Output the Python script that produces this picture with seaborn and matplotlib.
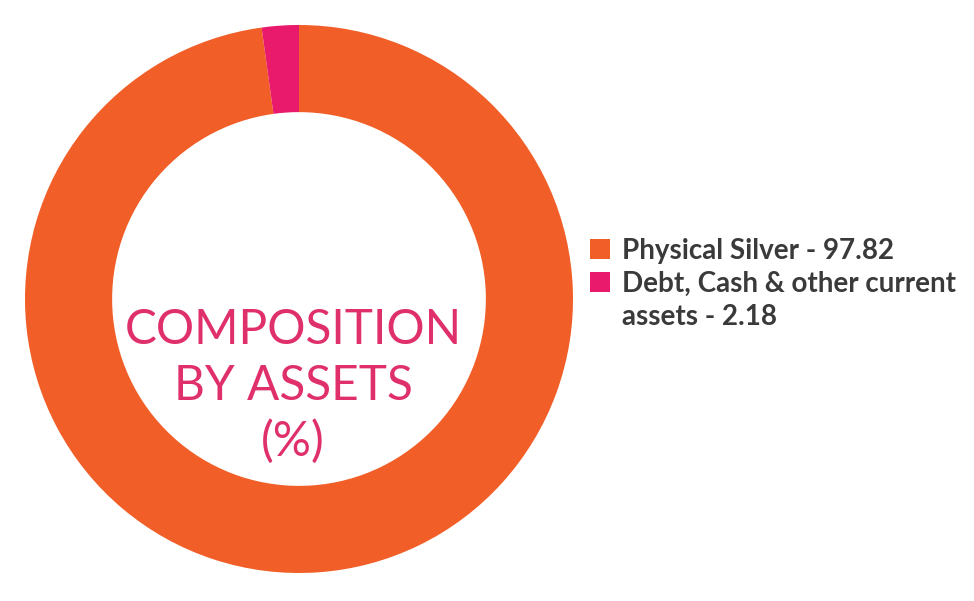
import matplotlib
matplotlib.use("Agg")
import matplotlib.pyplot as plt
from matplotlib.patches import Patch
import seaborn as sns

# Composition by assets (%)
categories = ["Physical Silver", "Debt, Cash & other current assets"]
values = [97.82, 2.18]
colors = ["#F15E27", "#E9196B"]
center_title = "COMPOSITION\nBY ASSETS\n(%)"

sns.set_theme(style="white")
plt.rcParams["font.family"] = ["Lato", "DejaVu Sans"]

fig = plt.figure(figsize=(9.74, 6.01), dpi=100)
ax = fig.add_axes([25 / 974, 28 / 601, 548 / 974, 548 / 601])

wedges, _ = ax.pie(
    values,
    colors=colors,
    startangle=90,
    counterclock=False,
    radius=1.0,
    wedgeprops=dict(width=0.318, linewidth=0),
)
ax.set_xlim(-1, 1)
ax.set_ylim(-1, 1)
ax.set_aspect("equal")
ax.axis("off")

ax.text(-0.022, -0.318, center_title, ha="center", va="center", fontsize=34.4,
        color="#E0306B", linespacing=1.31, fontweight="normal")

# legend: the long label wraps onto a second line with no marker
handles, labels = [], []
for w, c, v in zip(wedges, categories, values):
    text = f"{c} - {v:.2f}"
    if len(text) > 28:
        head, tail = text.rsplit(" ", 3)[0], " ".join(text.rsplit(" ", 3)[1:])
        handles += [w, Patch(facecolor="none", edgecolor="none")]
        labels += [head, tail]
    else:
        handles.append(w)
        labels.append(text)

leg = fig.legend(
    handles, labels,
    loc="upper left", bbox_to_anchor=(590 / 974, 1 - 238 / 601),
    frameon=False, fontsize=20, handlelength=0.72, handleheight=0.72,
    handletextpad=0.45, labelspacing=0.25, borderaxespad=0, borderpad=0,
)
for t in leg.get_texts():
    t.set_fontweight("bold")
    t.set_color("#3A3A3A")

fig.savefig("out.png", dpi=100)
